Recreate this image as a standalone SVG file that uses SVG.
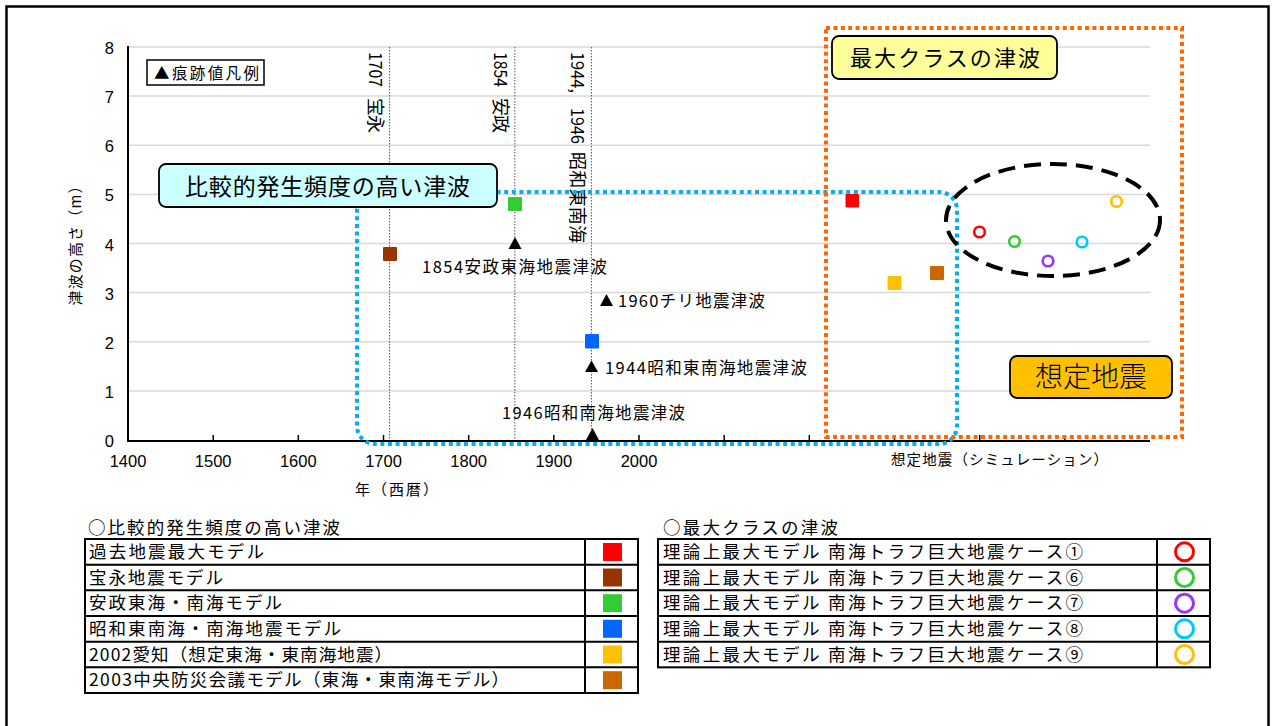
<svg xmlns="http://www.w3.org/2000/svg" width="1272" height="726" viewBox="0 0 1272 726">
<style>
.jp{font-family:"Noto Sans CJK JP","Liberation Sans",sans-serif;fill:#000}
.num{font-family:"Liberation Sans","Noto Sans CJK JP",sans-serif;font-size:16.5px;fill:#000}
.grid{stroke:#d9d9d9;stroke-width:1.5;fill:none}
.vl{stroke:#555;stroke-width:1;stroke-dasharray:1.5 1.5}
.tbl{fill:none;stroke:#000;stroke-width:2}
.row{font-size:17.5px}
.lab{font-size:16.5px}
.vt{font-size:18px}
.sq{stroke:none}
.ring{fill:none;stroke-width:2.6}
.lring{fill:#fff;stroke-width:3}
.callout{stroke:#000;stroke-width:1.8}
</style>
<rect width="1272" height="726" fill="#fff"/>
<rect x="6.5" y="6.5" width="1262" height="800" fill="none" stroke="#000" stroke-width="2.5"/>

<g id="chart-grid">
<path class="grid" d="M128 390.9H1150M128 341.75H1150M128 292.6H1150M128 243.5H1150M128 194.4H1150M128 145.25H1150M128 96.1H1150M128 47H1150"/>
<path class="vl" d="M389.6 47V440M514.8 47V440M591.4 47V440"/>
</g>

<g id="axes">
<path d="M128 46V441H1150" fill="none" stroke="#000" stroke-width="2"/>
<path d="M213.2 440v-5M298.3 440v-5M383.5 440v-5M468.7 440v-5M553.8 440v-5M639 440v-5M724.2 440v-5M809.3 440v-5M894.5 440v-5M979.7 440v-5M1064.8 440v-5" stroke="#000" stroke-width="1.5"/>
<g class="num" text-anchor="end">
<text x="114" y="54">8</text>
<text x="114" y="103">7</text>
<text x="114" y="152">6</text>
<text x="114" y="201">5</text>
<text x="114" y="250.5">4</text>
<text x="114" y="299.5">3</text>
<text x="114" y="348.5">2</text>
<text x="114" y="398">1</text>
<text x="114" y="447">0</text>
</g>
<g class="num" text-anchor="middle">
<text x="128" y="467">1400</text>
<text x="213.2" y="467">1500</text>
<text x="298.3" y="467">1600</text>
<text x="383.5" y="467">1700</text>
<text x="468.7" y="467">1800</text>
<text x="553.8" y="467">1900</text>
<text x="639" y="467">2000</text>
</g>
<text class="jp" font-size="15" x="355" y="495" textLength="83" lengthAdjust="spacing">年（西暦）</text>
<text class="jp" font-size="14.5" x="891" y="465" textLength="217" lengthAdjust="spacing">想定地震（シミュレーション）</text>
<text class="jp" font-size="15" transform="translate(81,242) rotate(-90)" text-anchor="middle" textLength="127" lengthAdjust="spacing">津波の高さ（m）</text>
</g>

<g id="era-labels" class="jp vt">
<text transform="translate(369,52) rotate(90)" textLength="35" lengthAdjust="spacingAndGlyphs">1707</text>
<text transform="translate(369,98) rotate(90)" textLength="35" lengthAdjust="spacing">宝永</text>
<text transform="translate(494,52) rotate(90)" textLength="35" lengthAdjust="spacingAndGlyphs">1854</text>
<text transform="translate(494,98) rotate(90)" textLength="35" lengthAdjust="spacing">安政</text>
<text transform="translate(571,52) rotate(90)" textLength="41" lengthAdjust="spacingAndGlyphs">1944,</text>
<text transform="translate(571,108) rotate(90)" textLength="36" lengthAdjust="spacingAndGlyphs">1946</text>
<text transform="translate(571,152) rotate(90)" textLength="91" lengthAdjust="spacing">昭和東南海</text>
</g>

<g id="regions">
<rect x="357" y="192" width="600" height="252" rx="18" fill="none" stroke="#00b0f0" stroke-width="4" stroke-dasharray="4 3.6"/>
<rect x="826" y="28" width="356" height="409" fill="none" stroke="#ff6600" stroke-width="4" stroke-dasharray="4 3.4"/>
<ellipse cx="1053" cy="220" rx="107" ry="56" fill="none" stroke="#000" stroke-width="4" stroke-dasharray="17 9"/>
</g>

<g id="trace-legend">
<rect x="147" y="60" width="117" height="25" fill="#fff" stroke="#000" stroke-width="1.5"/>
<text class="jp" font-size="15.5" x="154" y="79" textLength="105" lengthAdjust="spacing">▲痕跡値凡例</text>
</g>

<g id="trace-points">
<polygon points="515,237 521.5,249 508.5,249" fill="#000"/>
<text class="jp lab" x="422" y="273" textLength="185" lengthAdjust="spacing">1854安政東海地震津波</text>
<polygon points="606.5,294 613,306 600,306" fill="#000"/>
<text class="jp lab" x="618" y="307" textLength="147" lengthAdjust="spacing">1960チリ地震津波</text>
<polygon points="591.5,360.5 598,372 585,372" fill="#000"/>
<text class="jp lab" x="605" y="374" textLength="202" lengthAdjust="spacing">1944昭和東南海地震津波</text>
<polygon points="592.5,428 599,440 586,440" fill="#000"/>
<text class="jp lab" x="502" y="419" textLength="183" lengthAdjust="spacing">1946昭和南海地震津波</text>
</g>

<g id="model-points">
<rect class="sq" x="845.5" y="194" width="13.5" height="13.5" rx="1" fill="#ff0000"/>
<rect class="sq" x="383" y="247" width="14" height="14" rx="1" fill="#993300"/>
<rect class="sq" x="508" y="197" width="14" height="14" rx="1" fill="#33cc33"/>
<rect class="sq" x="585" y="334" width="14" height="14.5" rx="1" fill="#0066ff"/>
<rect class="sq" x="887.5" y="276" width="14" height="14" rx="1" fill="#ffc000"/>
<rect class="sq" x="930" y="266" width="14" height="14" rx="1" fill="#cc6600"/>
<circle class="ring" cx="979.5" cy="232" r="5.3" stroke="#ff0000"/>
<circle class="ring" cx="1014.5" cy="241.5" r="5.3" stroke="#33cc33"/>
<circle class="ring" cx="1048" cy="261" r="5.3" stroke="#9933ff"/>
<circle class="ring" cx="1082" cy="242" r="5.3" stroke="#00c8f8"/>
<circle class="ring" cx="1116.5" cy="201.5" r="5.3" stroke="#ffc000"/>
</g>

<g id="callout-frequent">
<rect class="callout" x="159" y="164" width="338" height="43" rx="7" fill="#ccffff"/>
<text class="jp" font-size="23" x="185" y="194.5" textLength="285" lengthAdjust="spacing">比較的発生頻度の高い津波</text>
</g>
<g id="callout-maxclass">
<rect class="callout" x="832" y="36" width="225" height="43" rx="7" fill="#ffff99"/>
<text class="jp" font-size="22" x="850" y="66" textLength="190" lengthAdjust="spacing">最大クラスの津波</text>
</g>
<g id="callout-assumed">
<rect class="callout" x="1010" y="356" width="162" height="42" rx="7" fill="#ffc000"/>
<text class="jp" font-size="28" x="1035" y="387" textLength="112" lengthAdjust="spacing" font-weight="300">想定地震</text>
</g>

<g id="legend-frequent">
<text class="jp row" x="88" y="534" textLength="252" lengthAdjust="spacing">○比較的発生頻度の高い津波</text>
<rect class="tbl" x="85" y="539" width="553" height="154"/>
<path class="tbl" d="M585 539V693M85 564.67H638M85 590.33H638M85 616H638M85 641.67H638M85 667.33H638"/>
<text class="jp row" x="89" y="558" textLength="175" lengthAdjust="spacing">過去地震最大モデル</text>
<text class="jp row" x="89" y="583.5" textLength="134" lengthAdjust="spacing">宝永地震モデル</text>
<text class="jp row" x="89" y="609.2" textLength="193" lengthAdjust="spacing">安政東海・南海モデル</text>
<text class="jp row" x="89" y="635" textLength="252" lengthAdjust="spacing">昭和東南海・南海地震モデル</text>
<text class="jp row" x="89" y="660.5" textLength="303" lengthAdjust="spacing">2002愛知（想定東海・東南海地震）</text>
<text class="jp row" x="89" y="686.2" textLength="420" lengthAdjust="spacing">2003中央防災会議モデル（東海・東南海モデル）</text>
<rect x="603" y="543" width="19" height="18" fill="#ff0000"/>
<rect x="603" y="568.5" width="19" height="18" fill="#993300"/>
<rect x="603" y="594.2" width="19" height="18" fill="#33cc33"/>
<rect x="603" y="619.8" width="19" height="18" fill="#0066ff"/>
<rect x="603" y="645.5" width="19" height="18" fill="#ffc000"/>
<rect x="603" y="671.2" width="19" height="18" fill="#cc6600"/>
</g>

<g id="legend-maxclass">
<text class="jp row" x="663" y="534" textLength="175" lengthAdjust="spacing">○最大クラスの津波</text>
<rect class="tbl" x="658" y="539" width="552" height="128.33"/>
<path class="tbl" d="M1157 539V667.33M658 564.67H1210M658 590.33H1210M658 616H1210M658 641.67H1210"/>
<text class="jp row" x="663" y="558" textLength="420" lengthAdjust="spacing">理論上最大モデル 南海トラフ巨大地震ケース①</text>
<text class="jp row" x="663" y="583.5" textLength="420" lengthAdjust="spacing">理論上最大モデル 南海トラフ巨大地震ケース⑥</text>
<text class="jp row" x="663" y="609.2" textLength="420" lengthAdjust="spacing">理論上最大モデル 南海トラフ巨大地震ケース⑦</text>
<text class="jp row" x="663" y="635" textLength="420" lengthAdjust="spacing">理論上最大モデル 南海トラフ巨大地震ケース⑧</text>
<text class="jp row" x="663" y="660.5" textLength="420" lengthAdjust="spacing">理論上最大モデル 南海トラフ巨大地震ケース⑨</text>
<circle class="lring" cx="1184.5" cy="551.8" r="9" stroke="#ff0000"/>
<circle class="lring" cx="1184.5" cy="577.5" r="9" stroke="#33cc33"/>
<circle class="lring" cx="1184.5" cy="603.2" r="9" stroke="#9933ff"/>
<circle class="lring" cx="1184.5" cy="628.8" r="9" stroke="#00c8f8"/>
<circle class="lring" cx="1184.5" cy="654.5" r="9" stroke="#ffc000"/>
</g>
</svg>
